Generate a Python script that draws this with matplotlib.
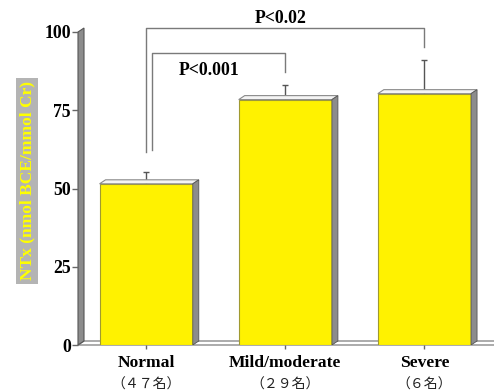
import matplotlib
matplotlib.use('Agg')
import matplotlib.pyplot as plt
from matplotlib.patches import Polygon
import numpy as np

plt.rcParams['font.family'] = ['Liberation Serif', 'Noto Sans CJK JP', 'DejaVu Sans']

categories = ['Normal', 'Mild/moderate', 'Severe']
counts = ['（４７名）', '（２９名）', '（６名）']
means = [51.5, 78.4, 80.3]
errors = [3.8, 4.7, 10.6]
yticks = [0, 25, 50, 75, 100]
comparisons = ['P<0.001', 'P<0.02']

W, H = 494, 391
fig = plt.figure(figsize=(W / 100, H / 100), dpi=100)
ax = fig.add_axes([78 / W, (H - 345) / H, (W - 78) / W, (345 - 32) / H])
x = np.arange(len(categories))
ax.set_xlim(-0.49, 2.5)
ax.set_ylim(0, 100)

x0, x1 = ax.get_xlim()
px_x = (x1 - x0) / (W - 78)
px_y = 100 / (345 - 32)
dx, dy = 6 * px_x, 4 * px_y

yellow = '#fff200'
side = '#8c8c8c'

floor = Polygon([(x0, 0), (x1, 0), (x1 + dx, dy), (x0 + dx, dy)], closed=True,
                facecolor='white', edgecolor='#8a8a8a', lw=1, clip_on=False, zorder=1)
ax.add_patch(floor)
wall = Polygon([(x0, 0), (x0 + dx, dy), (x0 + dx, 100 + dy), (x0, 100)], closed=True,
               facecolor=side, edgecolor='#555555', lw=0.8, clip_on=False, zorder=1)
ax.add_patch(wall)

width = 0.67
ax.errorbar(x, means, yerr=[np.zeros(len(means)), errors], fmt='none',
            ecolor='#555555', elinewidth=1, capsize=2, capthick=1, zorder=2)
bars = ax.bar(x, means, width=width, color=yellow, edgecolor='#a09a30', lw=0.8, zorder=3)
for b in bars:
    l, r, t = b.get_x(), b.get_x() + b.get_width(), b.get_height()
    top = Polygon([(l, t), (r, t), (r + dx, t + dy), (l + dx, t + dy)], closed=True,
                  facecolor='#f4f4f4', edgecolor='#8a8a8a', lw=0.8, zorder=3)
    sd = Polygon([(r, 0), (r + dx, dy), (r + dx, t + dy), (r, t)], closed=True,
                 facecolor=side, edgecolor='#555555', lw=0.6, zorder=3)
    ax.add_patch(top)
    ax.add_patch(sd)

lc = '#7a7a7a'
# comparison brackets
ax.plot([x[0] + 0.045, x[0] + 0.045, x[1], x[1]], [62.4, 93.4, 93.4, 87.3],
        color=lc, lw=1, clip_on=False, zorder=2)
ax.text(0.45, 87.6, comparisons[0], ha='center', va='center', fontsize=12.8,
        fontweight='bold', zorder=5)
ax.plot([x[0], x[0], x[2], x[2]], [61.7, 101.3, 101.3, 95.3],
        color=lc, lw=1, clip_on=False, zorder=2)
ax.text(0.97, 104.4, comparisons[1], ha='center', va='center', fontsize=12.8,
        fontweight='bold', zorder=5, clip_on=False)

for s in ax.spines.values():
    s.set_visible(False)
ax.set_yticks(yticks)
ax.set_yticklabels([str(v) for v in yticks], fontsize=12.8, fontweight='bold')
ax.tick_params(axis='y', length=4, color='#666666', width=1, pad=1)
ax.set_xticks(x)
ax.set_xticklabels(categories, fontsize=12.6, fontweight='bold')
ax.tick_params(axis='x', length=3, color='#666666', width=1, pad=4.5)
for xi, c in zip(x, counts):
    ax.annotate(c, xy=(xi, 0), xycoords=('data', 'axes fraction'), xytext=(0, -28.5),
                textcoords='offset points', ha='center', va='center', fontsize=10,
                family=['Noto Sans CJK JP'], color='#222222')

fig.text(27 / W, 1 - 181 / H, 'NTx (nmol BCE/mmol Cr)', rotation=90, color='#ffff00',
         fontweight='bold', fontsize=12.5, ha='center', va='center',
         bbox=dict(facecolor='#b4b4b4', edgecolor='none', pad=2.5))

fig.savefig('out.png', dpi=100)
